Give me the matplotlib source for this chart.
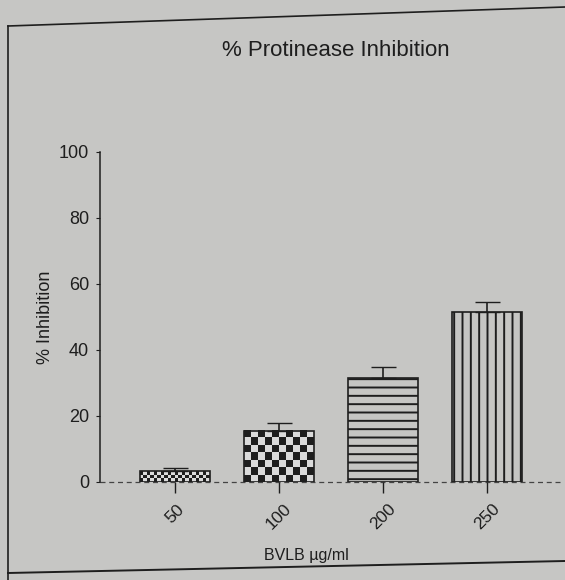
import numpy as np
import matplotlib
matplotlib.use("Agg")
import matplotlib.pyplot as plt
from matplotlib.lines import Line2D
from matplotlib.colors import ListedColormap

plt.rcParams['font.family'] = ['Liberation Sans', 'DejaVu Sans']

# datos
dosis = ['50', '100', '200', '250']
inhibicion = [3.3, 15.5, 31.5, 51.5]
error_sup = [0.8, 2.3, 3.5, 3.0]

fondo = '#c6c6c4'
tinta = '#1e1e1e'
plt.rcParams['hatch.color'] = tinta
plt.rcParams['hatch.linewidth'] = 1.4

fig = plt.figure(figsize=(5.65, 5.8), dpi=100, facecolor=fondo)
ax = fig.add_axes([100 / 565, 98 / 580, 460 / 565, 330 / 580])
ax.set_facecolor(fondo)

x = np.arange(len(dosis))
ancho = 0.67
ax.set_xlim(-0.72, 3.7)
ax.set_ylim(0, 100)

barras = ax.bar(x, inhibicion, width=ancho, facecolor='none',
                edgecolor=tinta, linewidth=1.2, zorder=3)
barras[2].set_hatch('--')
barras[3].set_hatch('||')

# tablero de ajedrez para las dos primeras barras
cmap_tablero = ListedColormap([tinta, '#dadada'])
fig.canvas.draw()
for i, ncol in [(0, 20), (1, 10)]:
    p0 = ax.transData.transform((x[i] - ancho / 2, 0))
    p1 = ax.transData.transform((x[i] + ancho / 2, inhibicion[i]))
    nfil = max(1, int(round((p1[1] - p0[1]) / ((p1[0] - p0[0]) / ncol))))
    tablero = (np.add.outer(np.arange(nfil), np.arange(ncol)) % 2).astype(float)
    ax.imshow(tablero, cmap=cmap_tablero, vmin=0, vmax=1, aspect='auto',
              extent=(x[i] - ancho / 2, x[i] + ancho / 2, 0, inhibicion[i]),
              interpolation='nearest', zorder=2)
ax.set_xlim(-0.72, 3.7)
ax.set_ylim(0, 100)

ax.errorbar(x, inhibicion, yerr=[np.zeros(len(x)), error_sup], fmt='none',
            ecolor=tinta, elinewidth=1.2, capsize=9, capthick=1.0, zorder=4)

for s in ['top', 'right', 'bottom']:
    ax.spines[s].set_visible(False)
ax.spines['left'].set_color(tinta)
ax.spines['left'].set_linewidth(1.1)
ax.axhline(0, color='#444444', linestyle=(0, (4, 3)), linewidth=0.9,
           zorder=1, clip_on=False)

ax.set_yticks([0, 20, 40, 60, 80, 100])
ax.tick_params(axis='y', length=3, width=0.8, colors=tinta, labelsize=13, pad=5)
ax.set_xticks(x)
ax.set_xticklabels(dosis, rotation=45, ha='center', fontsize=12.5)
ax.tick_params(axis='x', length=8, width=1.0, colors=tinta, pad=6)

ax.set_ylabel('% Inhibition', fontsize=13, color=tinta)
ax.yaxis.set_label_coords(-46 / 460, 0.5)
ax.set_xlabel('BVLB \u00b5g/ml', fontsize=11.5, color=tinta)
ax.xaxis.set_label_coords((306 - 100) / 460, -(548 - 482) / 330)
fig.text(336 / 565, 1 - 50 / 580, '% Protinease Inhibition', ha='center',
         va='center', fontsize=16, color=tinta)

# marco de la pagina escaneada
fig.add_artist(Line2D([8 / 565, 1.0], [1 - 26 / 580, 1 - 7 / 580],
                      color=tinta, linewidth=1.2))
fig.add_artist(Line2D([8 / 565, 8 / 565], [1 - 26 / 580, 0.0],
                      color=tinta, linewidth=1.2))
fig.add_artist(Line2D([8 / 565, 1.0], [1 - 573 / 580, 1 - 561 / 580],
                      color=tinta, linewidth=1.4))

fig.savefig('out.png', dpi=100, facecolor=fondo)
